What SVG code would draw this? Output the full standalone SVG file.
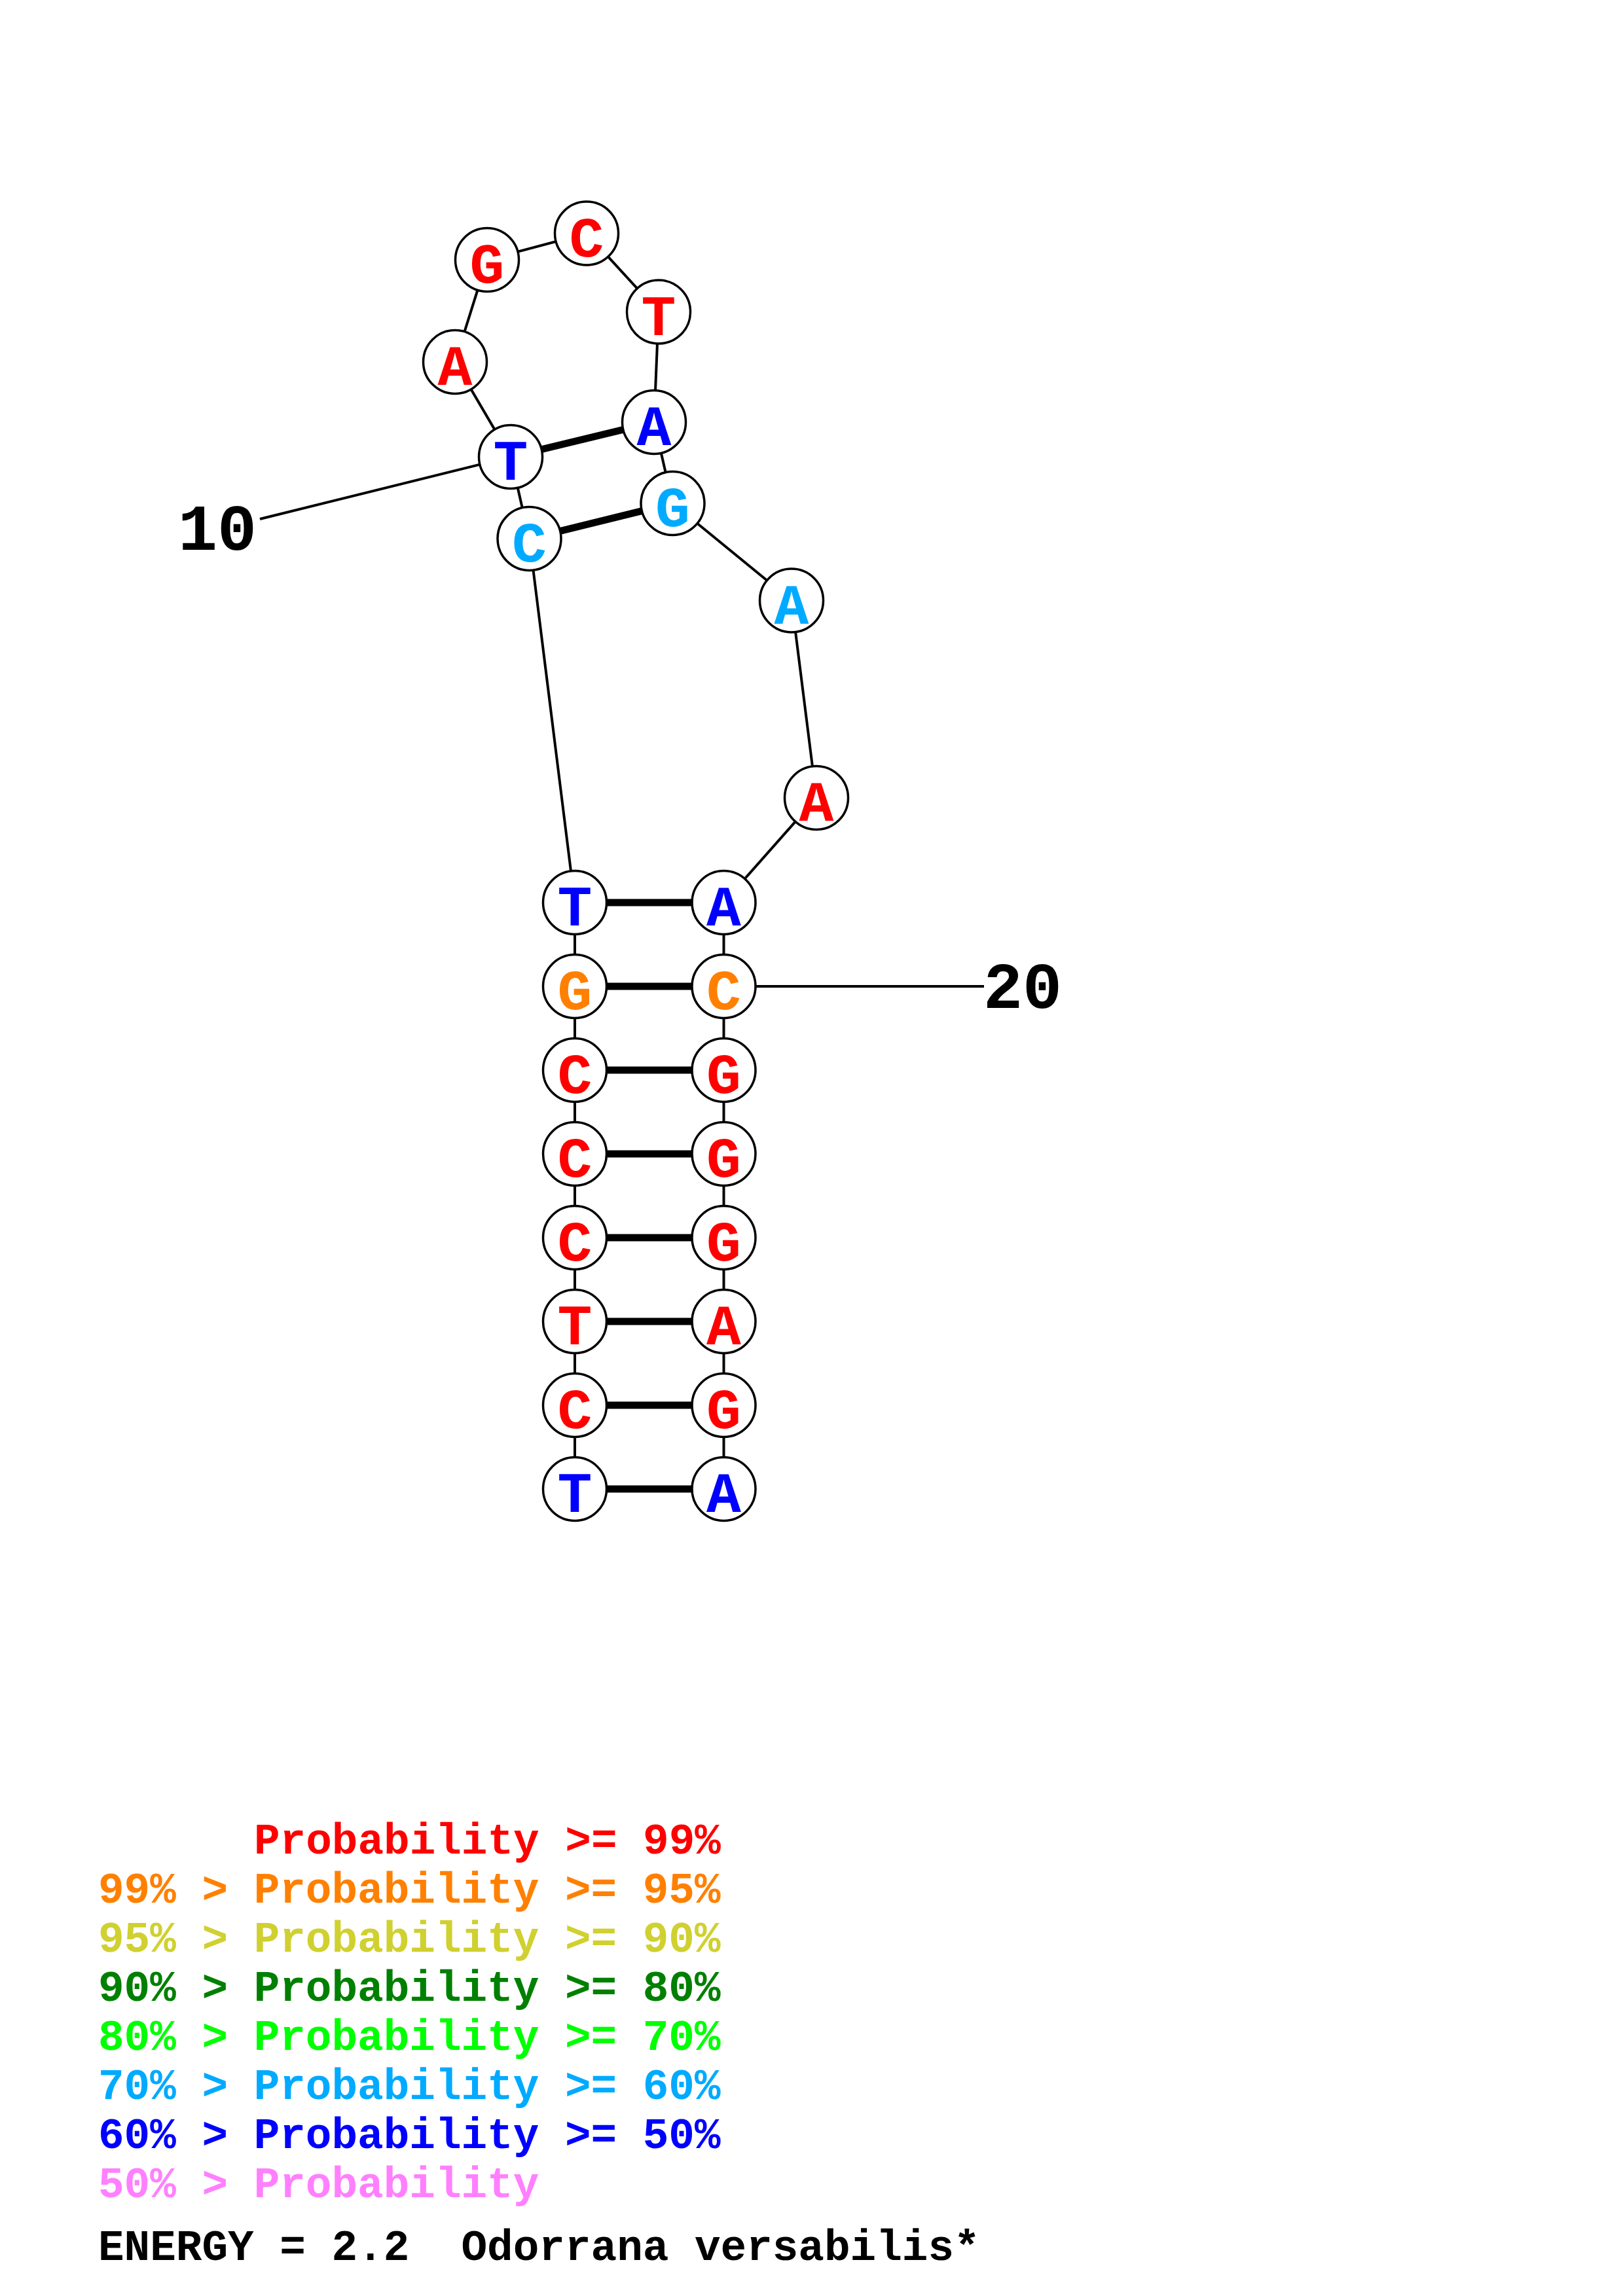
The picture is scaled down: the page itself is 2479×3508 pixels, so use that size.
<svg xmlns="http://www.w3.org/2000/svg" width="2479" height="3508" viewBox="0 0 2479 3508">
<style>
.bb{stroke:#000;stroke-width:4;fill:none}
.bp{stroke:#000;stroke-width:11;fill:none}
.nd circle{fill:#fff;stroke:#000;stroke-width:3.5}
.nd text{font-family:"Liberation Mono",monospace;font-weight:bold;font-size:88px;text-anchor:middle}
.r{fill:#FF0000}.o{fill:#FF8000}.y{fill:#D0D030}.g{fill:#008000}.l{fill:#00FF00}.c{fill:#00AAFF}.b{fill:#0000FF}.p{fill:#FF80FF}.k{fill:#000}
.lab{font-family:"Liberation Mono",monospace;font-weight:bold;font-size:100px}
.leg{font-family:"Liberation Mono",monospace;font-weight:bold;font-size:66px}
</style>
<rect width="2479" height="3508" fill="#fff"/>
<g id="connectors">
<polyline class="bb" points="878,2275 878,2147 878,2019 878,1891 878,1763 878,1635 878,1507 878,1379 808.5,823 780,698 695,553 744,397 896,356.5 1006,476.5 999,645 1027.5,769 1209,917.5 1247,1219 1105.5,1379 1105.5,1507 1105.5,1635 1105.5,1763 1105.5,1891 1105.5,2019 1105.5,2147 1105.5,2275"/>
<line class="bp" x1="780" y1="698" x2="999" y2="645"/>
<line class="bp" x1="808.5" y1="823" x2="1027.5" y2="769"/>
<line class="bp" x1="878" y1="1379" x2="1105.5" y2="1379"/>
<line class="bp" x1="878" y1="1507" x2="1105.5" y2="1507"/>
<line class="bp" x1="878" y1="1635" x2="1105.5" y2="1635"/>
<line class="bp" x1="878" y1="1763" x2="1105.5" y2="1763"/>
<line class="bp" x1="878" y1="1891" x2="1105.5" y2="1891"/>
<line class="bp" x1="878" y1="2019" x2="1105.5" y2="2019"/>
<line class="bp" x1="878" y1="2147" x2="1105.5" y2="2147"/>
<line class="bp" x1="878" y1="2275" x2="1105.5" y2="2275"/>
<line class="bb" x1="397" y1="793" x2="780" y2="698"/>
<line class="bb" x1="1105.5" y1="1507" x2="1503" y2="1507"/>
</g>
<g id="n1" class="nd"><circle cx="878" cy="2275" r="48.5"/><text x="878" y="2310" class="b">T</text></g>
<g id="n2" class="nd"><circle cx="878" cy="2147" r="48.5"/><text x="878" y="2182" class="r">C</text></g>
<g id="n3" class="nd"><circle cx="878" cy="2019" r="48.5"/><text x="878" y="2054" class="r">T</text></g>
<g id="n4" class="nd"><circle cx="878" cy="1891" r="48.5"/><text x="878" y="1926" class="r">C</text></g>
<g id="n5" class="nd"><circle cx="878" cy="1763" r="48.5"/><text x="878" y="1798" class="r">C</text></g>
<g id="n6" class="nd"><circle cx="878" cy="1635" r="48.5"/><text x="878" y="1670" class="r">C</text></g>
<g id="n7" class="nd"><circle cx="878" cy="1507" r="48.5"/><text x="878" y="1542" class="o">G</text></g>
<g id="n8" class="nd"><circle cx="878" cy="1379" r="48.5"/><text x="878" y="1414" class="b">T</text></g>
<g id="n9" class="nd"><circle cx="808.5" cy="823" r="48.5"/><text x="808.5" y="858" class="c">C</text></g>
<g id="n10" class="nd"><circle cx="780" cy="698" r="48.5"/><text x="780" y="733" class="b">T</text></g>
<g id="n11" class="nd"><circle cx="695" cy="553" r="48.5"/><text x="695" y="588" class="r">A</text></g>
<g id="n12" class="nd"><circle cx="744" cy="397" r="48.5"/><text x="744" y="432" class="r">G</text></g>
<g id="n13" class="nd"><circle cx="896" cy="356.5" r="48.5"/><text x="896" y="391.5" class="r">C</text></g>
<g id="n14" class="nd"><circle cx="1006" cy="476.5" r="48.5"/><text x="1006" y="511.5" class="r">T</text></g>
<g id="n15" class="nd"><circle cx="999" cy="645" r="48.5"/><text x="999" y="680" class="b">A</text></g>
<g id="n16" class="nd"><circle cx="1027.5" cy="769" r="48.5"/><text x="1027.5" y="804" class="c">G</text></g>
<g id="n17" class="nd"><circle cx="1209" cy="917.5" r="48.5"/><text x="1209" y="952.5" class="c">A</text></g>
<g id="n18" class="nd"><circle cx="1247" cy="1219" r="48.5"/><text x="1247" y="1254" class="r">A</text></g>
<g id="n19" class="nd"><circle cx="1105.5" cy="1379" r="48.5"/><text x="1105.5" y="1414" class="b">A</text></g>
<g id="n20" class="nd"><circle cx="1105.5" cy="1507" r="48.5"/><text x="1105.5" y="1542" class="o">C</text></g>
<g id="n21" class="nd"><circle cx="1105.5" cy="1635" r="48.5"/><text x="1105.5" y="1670" class="r">G</text></g>
<g id="n22" class="nd"><circle cx="1105.5" cy="1763" r="48.5"/><text x="1105.5" y="1798" class="r">G</text></g>
<g id="n23" class="nd"><circle cx="1105.5" cy="1891" r="48.5"/><text x="1105.5" y="1926" class="r">G</text></g>
<g id="n24" class="nd"><circle cx="1105.5" cy="2019" r="48.5"/><text x="1105.5" y="2054" class="r">A</text></g>
<g id="n25" class="nd"><circle cx="1105.5" cy="2147" r="48.5"/><text x="1105.5" y="2182" class="r">G</text></g>
<g id="n26" class="nd"><circle cx="1105.5" cy="2275" r="48.5"/><text x="1105.5" y="2310" class="b">A</text></g>
<g id="labels">
<text class="lab k" x="272" y="840">10</text>
<text class="lab k" x="1502" y="1540">20</text>
</g>
<g id="legend">
<text class="leg r" x="388" y="2832">Probability &gt;= 99%</text>
<text class="leg o" x="150" y="2907">99% &gt; Probability &gt;= 95%</text>
<text class="leg y" x="150" y="2982">95% &gt; Probability &gt;= 90%</text>
<text class="leg g" x="150" y="3057">90% &gt; Probability &gt;= 80%</text>
<text class="leg l" x="150" y="3132">80% &gt; Probability &gt;= 70%</text>
<text class="leg c" x="150" y="3207">70% &gt; Probability &gt;= 60%</text>
<text class="leg b" x="150" y="3282">60% &gt; Probability &gt;= 50%</text>
<text class="leg p" x="150" y="3357">50% &gt; Probability</text>
<text class="leg k" x="150" y="3453" xml:space="preserve">ENERGY = 2.2  Odorrana versabilis*</text>
</g>
</svg>
